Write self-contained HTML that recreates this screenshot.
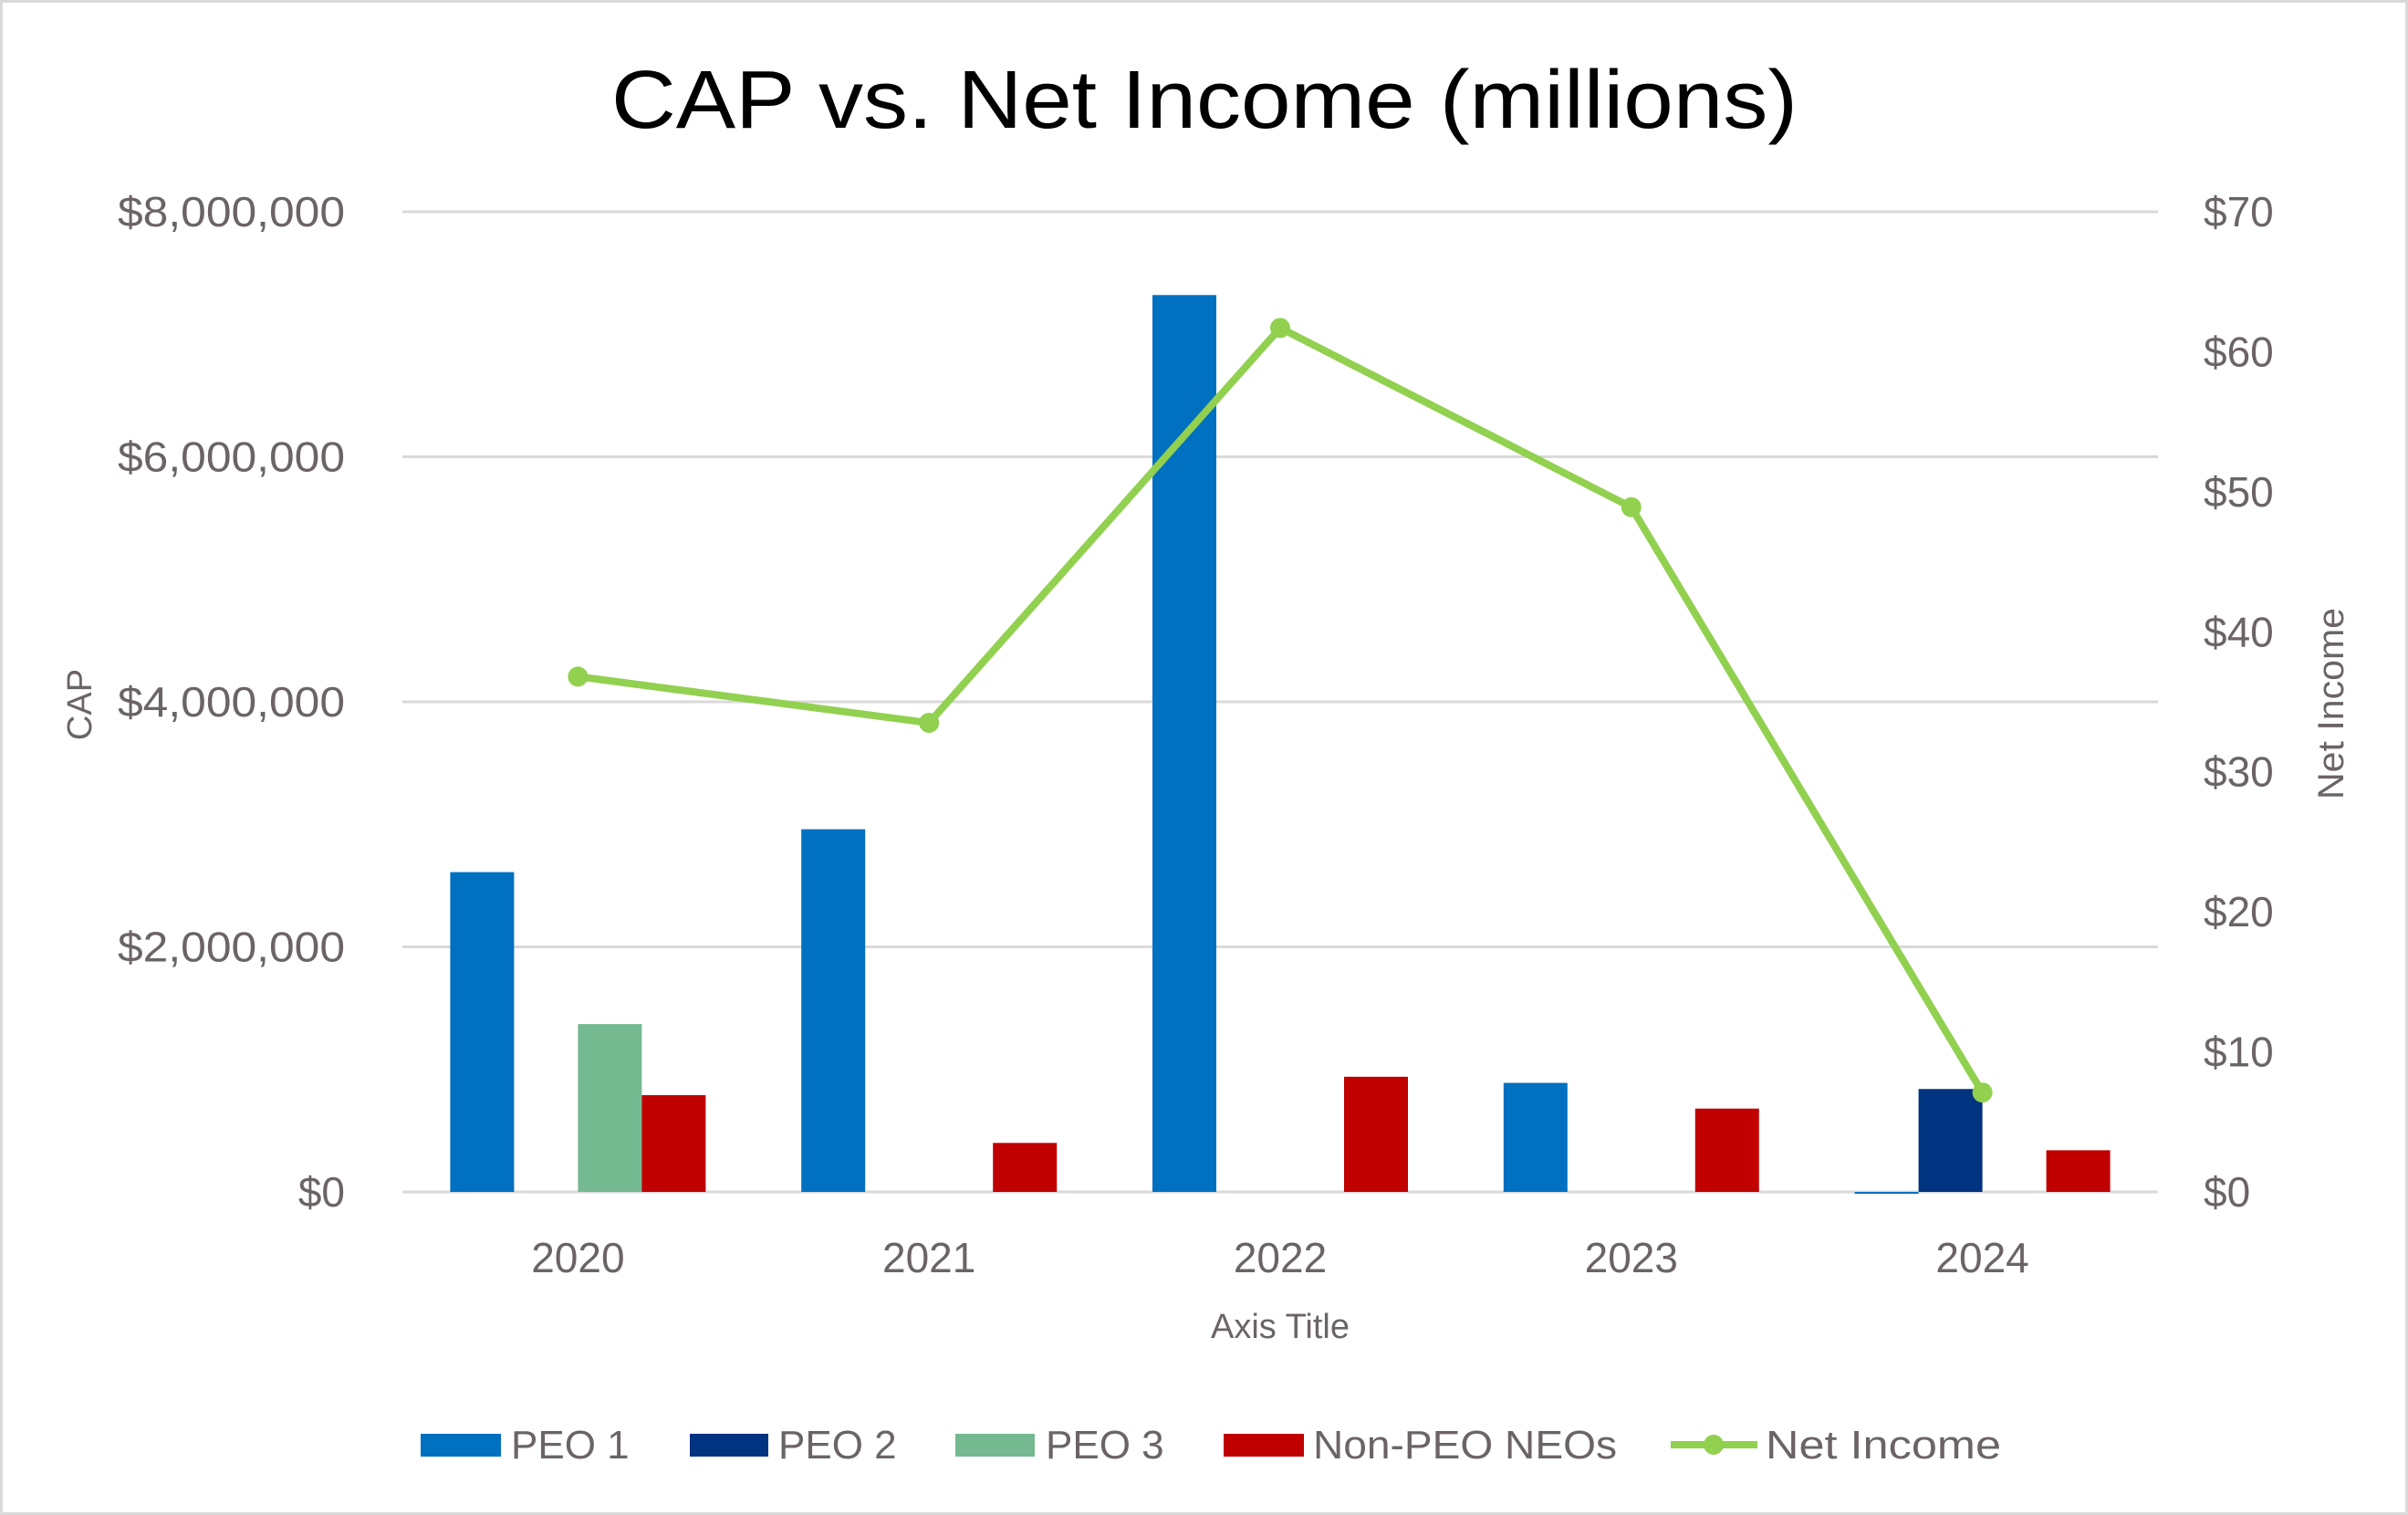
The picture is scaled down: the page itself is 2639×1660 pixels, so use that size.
<!DOCTYPE html>
<html><head><meta charset="utf-8"><style>
html,body{margin:0;padding:0;background:#fff}
svg{display:block}
text{font-family:"Liberation Sans",sans-serif}
</style></head><body>
<svg id="chart" width="2639" height="1660" viewBox="0 0 2639 1660" xmlns="http://www.w3.org/2000/svg">
<rect x="1.5" y="1.5" width="2636" height="1657" fill="#fff" stroke="#d9d9d9" stroke-width="3"/>
<text x="1320" y="140" text-anchor="middle" font-size="90" fill="#000" textLength="1300" lengthAdjust="spacingAndGlyphs">CAP vs. Net Income (millions)</text>
<g id="grid"></g>
<g id="bars"></g>
<g id="line"></g>
<g id="ticks"></g>
<text transform="translate(100,772) rotate(-90)" text-anchor="middle" font-size="38" fill="#6b6466">CAP</text>
<text transform="translate(2568,771) rotate(-90)" text-anchor="middle" font-size="40" fill="#6b6466" textLength="210" lengthAdjust="spacingAndGlyphs">Net Income</text>
<text x="1403" y="1466" text-anchor="middle" font-size="38" fill="#6b6466">Axis Title</text>
<g font-size="44" fill="#6b6466">
<g><rect x="461" y="1571" width="88" height="25" fill="#0070c0"/><text x="560" y="1598">PEO 1</text></g>
<g><rect x="756" y="1571" width="86" height="25" fill="#003380"/><text x="853" y="1598">PEO 2</text></g>
<g><rect x="1047" y="1571" width="87" height="25" fill="#75b991"/><text x="1146" y="1598">PEO 3</text></g>
<g><rect x="1341" y="1571" width="88" height="25" fill="#c00000"/><text x="1439" y="1598" textLength="333" lengthAdjust="spacingAndGlyphs">Non-PEO NEOs</text></g>
<g><line x1="1831" y1="1583" x2="1926" y2="1583" stroke="#92d050" stroke-width="8"/><circle cx="1878" cy="1583" r="11" fill="#92d050"/><text x="1935" y="1598" textLength="258" lengthAdjust="spacingAndGlyphs">Net Income</text></g>
</g>
</svg>
<script>
const categories=["2020","2021","2022","2023","2024"];
const peo1=[2610000,2960000,7320000,890000,-10000];
const peo2=[0,0,0,0,840000];
const peo3=[1370000,0,0,0,0];
const nonPeo=[790000,400000,940000,680000,340000];
const netIncome=[36.8,33.5,61.7,48.9,7.1];
const leftTicks=["$0","$2,000,000","$4,000,000","$6,000,000","$8,000,000"];
const rightTicks=["$0","$10","$20","$30","$40","$50","$60","$70"];
const NS="http://www.w3.org/2000/svg";
const L=441,R=2365,T=232,B=1306;
const yL=v=>B-(v/8000000)*(B-T);
const yR=v=>B-(v/70)*(B-T);
const cw=(R-L)/categories.length;
const xc=i=>L+cw*(i+0.5);
const bw=70;
function mk(tag,attrs,parent){const e=document.createElementNS(NS,tag);for(const k in attrs)e.setAttribute(k,attrs[k]);parent.appendChild(e);return e;}
const grid=document.getElementById('grid'),ticks=document.getElementById('ticks'),bars=document.getElementById('bars'),line=document.getElementById('line');
leftTicks.forEach((t,i)=>{const y=yL(i*2000000);
const g=mk('line',{x1:L,x2:R,y1:y,y2:y,stroke:'#d9d9d9','stroke-width':3},grid);


const attrs={x:378,y:y+16,'text-anchor':'end','font-size':46,fill:'#6b6466'};
if(t.length>5){attrs.textLength=249;attrs.lengthAdjust='spacingAndGlyphs';}
const tx=mk('text',attrs,ticks);tx.textContent=t;

});
rightTicks.forEach((t,i)=>{const y=yR(i*10);
const tx=mk('text',{x:2415,y:y+16,'font-size':46,fill:'#6b6466'},ticks);tx.textContent=t;

});
categories.forEach((c,i)=>{const tx=mk('text',{x:xc(i),y:1394,'text-anchor':'middle','font-size':46,fill:'#6b6466'},ticks);tx.textContent=c;

});
const series=[[peo1,'#0070c0','peo1'],[peo2,'#003380','peo2'],[peo3,'#75b991','peo3'],[nonPeo,'#c00000','non-peo']];
categories.forEach((c,i)=>{series.forEach((s,j)=>{const v=s[0][i];if(v===0)return;
const x=xc(i)-2*bw+j*bw;const y0=yL(0),y1=yL(v);
const r=mk('rect',{x:x,y:Math.min(y0,y1),width:bw,height:Math.max(2,Math.abs(y0-y1)),fill:s[1]},bars);

});});
const pts=netIncome.map((v,i)=>xc(i)+','+yR(v)).join(' ');
const pl=mk('polyline',{points:pts,fill:'none',stroke:'#92d050','stroke-width':8,'stroke-linejoin':'round'},line);


netIncome.forEach((v,i)=>{const c=mk('circle',{cx:xc(i),cy:yR(v),r:11,fill:'#92d050'},line);

});
</script>
</body></html>
